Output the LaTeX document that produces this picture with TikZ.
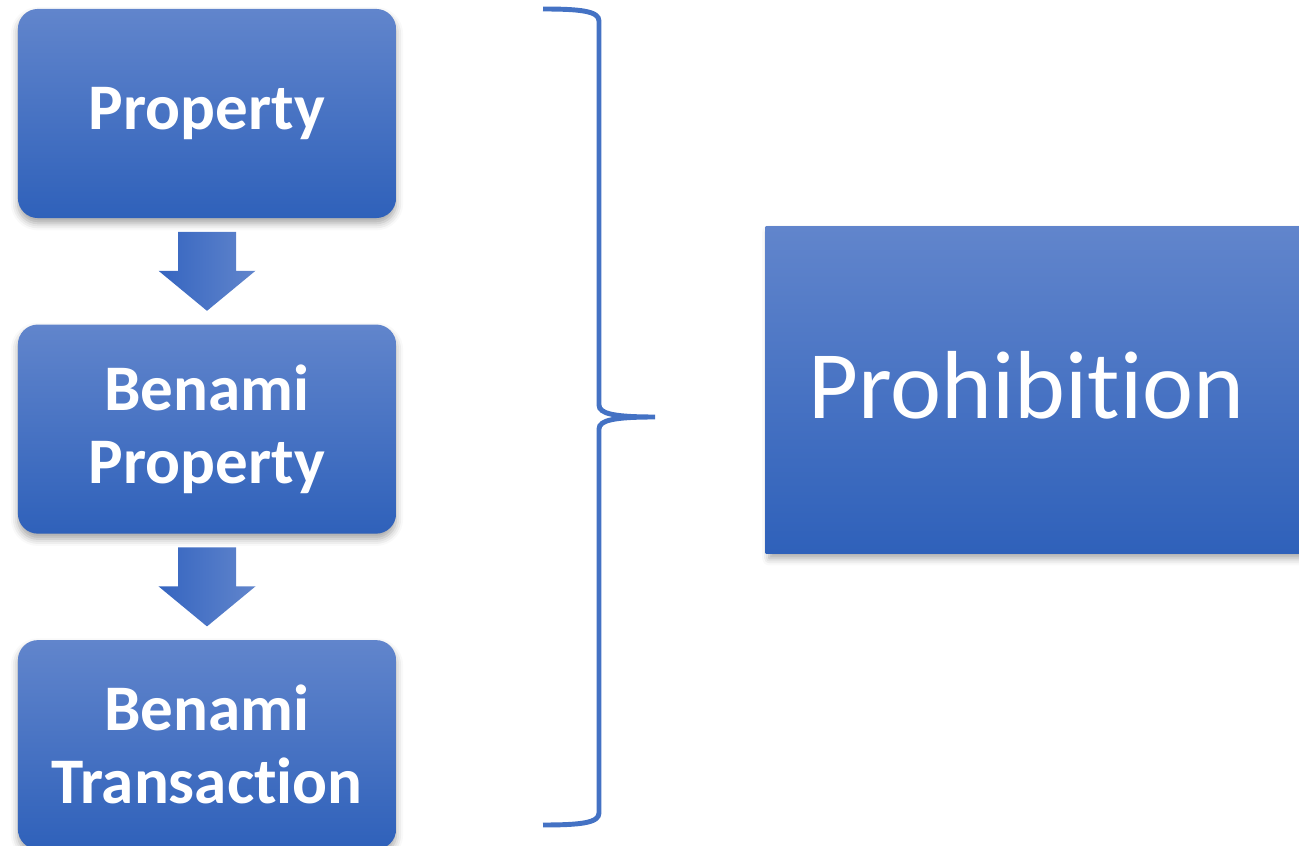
\documentclass[tikz,border=0pt]{standalone}
\usepackage{fontspec}
\setmainfont{Carlito}[Ligatures=NoCommon]
\usetikzlibrary{positioning,calc,shadows.blur}
\definecolor{boxtop}{RGB}{97,133,204}
\definecolor{boxbot}{RGB}{47,97,186}
\definecolor{arrleft}{RGB}{53,101,192}
\definecolor{arrright}{RGB}{97,133,204}
\definecolor{bracecol}{RGB}{68,114,196}
\begin{document}
\begin{tikzpicture}[x=0.01cm,y=-0.01cm,
  stepbox/.style={rounded corners=0.2cm,minimum width=3.78cm,minimum height=2.09cm,
    inner sep=0pt,top color=boxtop,bottom color=boxbot,text=white,align=center,
    font=\fontsize{18.5}{20.8}\selectfont\bfseries,
    blur shadow={shadow xshift=0pt,shadow yshift=-1.5pt,shadow blur radius=2pt,shadow opacity=35}},
  bigbox/.style={rectangle,minimum height=3.26cm,text width=4.79cm,inner xsep=0.43cm,
    inner ysep=0pt,text depth=0.1cm,
    top color=boxtop,bottom color=boxbot,text=white,align=left,
    font=\fontsize{27.5}{33}\selectfont,
    blur shadow={shadow xshift=1pt,shadow yshift=-1.5pt,shadow blur radius=2pt,shadow opacity=35}},
  blockarrow/.style={left color=arrleft,right color=arrright,draw=none},
  brace/.style={draw=bracecol,line width=1.4pt}]
\useasboundingbox (0,0) rectangle (1299,846);

% left column
\node[stepbox] (prop) at (207,113.5) {Property};
\node[stepbox,below=1.05cm of prop] (bprop) {Benami\\Property};
\node[stepbox,below=1.05cm of bprop] (btrans) {Benami\\Transaction};

% block arrows
\foreach \a/\b in {prop/bprop,bprop/btrans}
  \path[blockarrow] ($(\a.south)+(-29,13)$) -- ($(\a.south)+(29,13)$)
    -- ($(\a.south)+(29,52)$) -- ($(\a.south)+(48.5,52)$) -- ($(\b.north)+(0,-13)$)
    -- ($(\a.south)+(-48.5,52)$) -- ($(\a.south)+(-29,52)$) -- cycle;

% right side
\node[bigbox,anchor=west] (prohib) at (765,390) {Prohibition};

% brace
\draw[brace] (543,9) .. controls (580,9) and (599,11) .. (599,21) -- (599,405)
  .. controls (599,414) and (615,417) .. (655,417)
  .. controls (615,417) and (599,420) .. (599,429) -- (599,813)
  .. controls (599,823) and (580,825) .. (543,825);
\end{tikzpicture}
\end{document}
